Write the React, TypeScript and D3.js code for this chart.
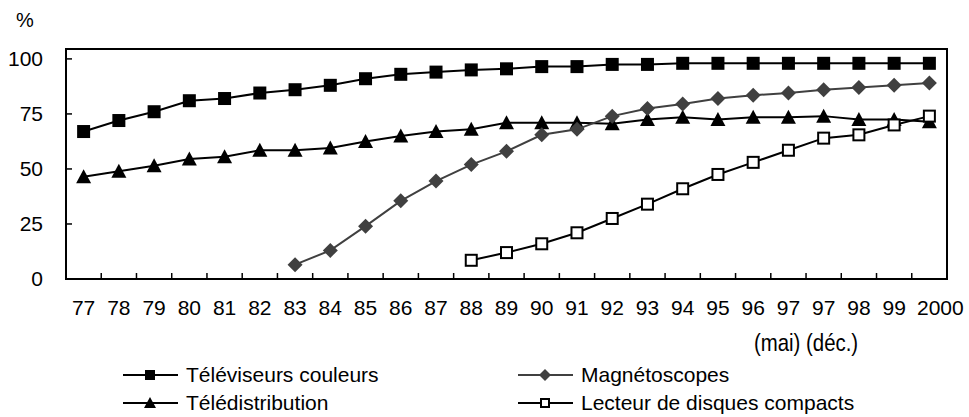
import React from "react";
import * as d3 from "d3";

const categories = ["77","78","79","80","81","82","83","84","85","86","87","88","89","90","91","92","93","94","95","96","97","97","98","99","2000"];
const subLabel = "(mai) (déc.)";
const yTicks = [0, 25, 50, 75, 100];
const yMax = 104.5;

const tv = [67, 72, 76, 81, 82, 84.5, 86, 88, 91, 93, 94, 95, 95.5, 96.5, 96.5, 97.5, 97.5, 98, 98, 98, 98, 98, 98, 98, 98];
const tele = [46.5, 49, 51.5, 54.5, 55.5, 58.5, 58.5, 59.5, 62.5, 65, 67, 68, 71, 71, 71, 70.5, 72.5, 73.5, 72.5, 73.5, 73.5, 74, 72.5, 72.5, 71.5];
const mag = [null, null, null, null, null, null, 6.5, 13, 24, 35.5, 44.5, 52, 58, 65.5, 68, 74, 77.5, 79.5, 82, 83.5, 84.5, 86, 87, 88, 89];
const cd = [null, null, null, null, null, null, null, null, null, null, null, 8.5, 12, 16, 21, 27.5, 34, 41, 47.5, 53, 58.5, 64, 65.5, 70, 74];

const seriesNames = ["Téléviseurs couleurs", "Magnétoscopes", "Télédistribution", "Lecteur de disques compacts"];

const W = 969, H = 417;
const left = 66, right = 947, top = 49, bottom = 279;
const FONT = "'Liberation Sans', Arial, sans-serif";

function Marker({ type, x, y, s }: { type: string; x: number; y: number; s: number }) {
  const h = s / 2;
  if (type === "square") return <rect x={x - h} y={y - h} width={s} height={s} fill="#000" />;
  if (type === "open") return <rect x={x - h + 1} y={y - h + 1} width={s - 2} height={s - 2} fill="#fff" stroke="#000" strokeWidth={2} />;
  if (type === "diamond") return <path d={`M${x},${y - h - 1}L${x + h + 1},${y}L${x},${y + h + 1}L${x - h - 1},${y}Z`} fill="#404040" />;
  return <path d={`M${x},${y - h - 1}L${x + h + 1},${y + h}L${x - h - 1},${y + h}Z`} fill="#000" />;
}

export default function App() {
  const x = d3.scaleBand<number>().domain(d3.range(categories.length)).range([left, right]);
  const y = d3.scaleLinear().domain([0, yMax]).range([bottom, top]);
  const cx = (i: number) => (x(i) as number) + x.bandwidth() / 2;

  const series = [
    { data: tv, type: "square", color: "#000" },
    { data: tele, type: "triangle", color: "#000" },
    { data: mag, type: "diamond", color: "#404040" },
    { data: cd, type: "open", color: "#000" },
  ];

  const line = d3.line<[number, number | null]>()
    .defined((d) => d[1] != null)
    .x((d) => cx(d[0]))
    .y((d) => y(d[1] as number));

  const legend = [
    { name: seriesNames[0], type: "square", color: "#000", lx: 123, ly: 375 },
    { name: seriesNames[1], type: "diamond", color: "#404040", lx: 518, ly: 375 },
    { name: seriesNames[2], type: "triangle", color: "#000", lx: 123, ly: 403 },
    { name: seriesNames[3], type: "open", color: "#000", lx: 518, ly: 403 },
  ];

  const subX = (cx(20) + cx(21)) / 2;

  return (
    <svg width={W} height={H} style={{ position: "absolute", left: 0, top: 0, background: "#fff" }} fontFamily={FONT}>
      <rect width={W} height={H} fill="#fff" />
      <text x={16} y={27} fontSize={20} fill="#000">%</text>
      {yTicks.map((t) => (
        <g key={t}>
          <line x1={left} x2={left + 6} y1={y(t)} y2={y(t)} stroke="#000" strokeWidth={1.5} />
          <text x={43} y={y(t)} dy="0.35em" textAnchor="end" fontSize={21} fill="#000">{t}</text>
        </g>
      ))}
      {d3.range(1, categories.length).map((i) => (
        <line key={i} x1={x(i) as number} x2={x(i) as number} y1={bottom} y2={bottom - 6} stroke="#000" strokeWidth={1.5} />
      ))}
      {categories.map((c, i) => (
        <text key={i} x={cx(i) + (i === categories.length - 1 ? 11 : 0)} y={315} textAnchor="middle" fontSize={21} fill="#000">{c}</text>
      ))}
      <text transform={`translate(${subX},351) scale(0.85,1)`} textAnchor="middle" fontSize={24} fill="#000">{subLabel}</text>
      <rect x={left} y={top} width={right - left} height={bottom - top} fill="none" stroke="#000" strokeWidth={2} />
      {series.map((s, k) => (
        <g key={k}>
          <path d={line(s.data.map((v, i) => [i, v] as [number, number | null])) || ""} fill="none" stroke={s.color} strokeWidth={2} />
          {s.data.map((v, i) => v == null ? null : <Marker key={i} type={s.type} x={cx(i)} y={y(v)} s={13} />)}
        </g>
      ))}
      {legend.map((l, k) => (
        <g key={k}>
          <line x1={l.lx} x2={l.lx + 55} y1={l.ly} y2={l.ly} stroke={l.color} strokeWidth={2} />
          <Marker type={l.type} x={l.lx + 27} y={l.ly} s={10} />
          <text x={l.lx + 63} y={l.ly} dy="0.35em" fontSize={21} fill="#000">{l.name}</text>
        </g>
      ))}
    </svg>
  );
}
